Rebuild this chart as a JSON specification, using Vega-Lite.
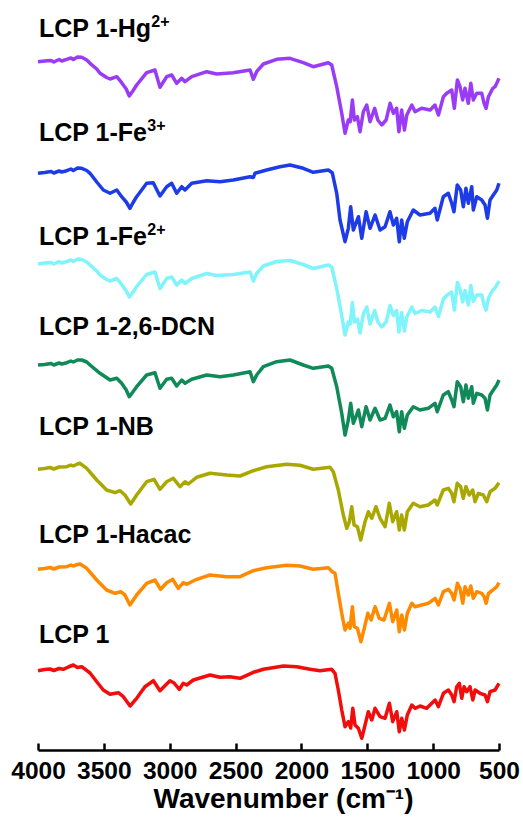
{
  "$schema": "https://vega.github.io/schema/vega-lite/v6.json",
  "width": 461,
  "height": 740,
  "autosize": "none",
  "padding": {"left": 38, "top": 10, "right": 24, "bottom": 73},
  "background": "white",
  "config": {"view": {"stroke": null}, "font": "Liberation Sans"},
  "datasets": {
    "spectra": [
      {"s":"Hg","w":4000,"t":688.3},{"s":"Hg","w":3950,"t":689},{"s":"Hg","w":3900,"t":689.5},{"s":"Hg","w":3880,"t":688},{"s":"Hg","w":3840,"t":690.5},{"s":"Hg","w":3820,"t":689},{"s":"Hg","w":3782,"t":690.7},{"s":"Hg","w":3750,"t":692},{"s":"Hg","w":3732,"t":690.5},{"s":"Hg","w":3700,"t":693},{"s":"Hg","w":3668,"t":692.7},{"s":"Hg","w":3630,"t":690},{"s":"Hg","w":3605,"t":686.7},{"s":"Hg","w":3554,"t":681},{"s":"Hg","w":3529,"t":676.7},{"s":"Hg","w":3479,"t":672.5},{"s":"Hg","w":3453,"t":671},{"s":"Hg","w":3402,"t":673.3},{"s":"Hg","w":3365,"t":667.3},{"s":"Hg","w":3330,"t":661},{"s":"Hg","w":3307,"t":654},{"s":"Hg","w":3280,"t":659},{"s":"Hg","w":3251,"t":665},{"s":"Hg","w":3175,"t":677.3},{"s":"Hg","w":3112,"t":680},{"s":"Hg","w":3074,"t":662.7},{"s":"Hg","w":3023,"t":673.3},{"s":"Hg","w":2985,"t":675},{"s":"Hg","w":2947,"t":666.7},{"s":"Hg","w":2909,"t":671.7},{"s":"Hg","w":2884,"t":668.3},{"s":"Hg","w":2833,"t":673.3},{"s":"Hg","w":2719,"t":678.3},{"s":"Hg","w":2643,"t":676},{"s":"Hg","w":2517,"t":677.3},{"s":"Hg","w":2390,"t":680},{"s":"Hg","w":2365,"t":670.7},{"s":"Hg","w":2340,"t":678.3},{"s":"Hg","w":2289,"t":686},{"s":"Hg","w":2188,"t":690.7},{"s":"Hg","w":2087,"t":691.7},{"s":"Hg","w":1986,"t":687.3},{"s":"Hg","w":1910,"t":683.3},{"s":"Hg","w":1796,"t":687.3},{"s":"Hg","w":1770,"t":685},{"s":"Hg","w":1732,"t":663.3},{"s":"Hg","w":1694,"t":636.7},{"s":"Hg","w":1669,"t":616.7},{"s":"Hg","w":1644,"t":630},{"s":"Hg","w":1630,"t":628.3},{"s":"Hg","w":1613,"t":650},{"s":"Hg","w":1598,"t":630},{"s":"Hg","w":1575,"t":633.3},{"s":"Hg","w":1555,"t":618.3},{"s":"Hg","w":1530,"t":638.3},{"s":"Hg","w":1504,"t":645},{"s":"Hg","w":1479,"t":628.3},{"s":"Hg","w":1444,"t":641.7},{"s":"Hg","w":1420,"t":630},{"s":"Hg","w":1390,"t":625},{"s":"Hg","w":1357,"t":630},{"s":"Hg","w":1327,"t":646.7},{"s":"Hg","w":1302,"t":636.7},{"s":"Hg","w":1277,"t":641.7},{"s":"Hg","w":1260,"t":618.3},{"s":"Hg","w":1239,"t":640},{"s":"Hg","w":1218,"t":620},{"s":"Hg","w":1200,"t":635},{"s":"Hg","w":1162,"t":645},{"s":"Hg","w":1137,"t":638.3},{"s":"Hg","w":1087,"t":641.7},{"s":"Hg","w":1023,"t":640},{"s":"Hg","w":986,"t":645},{"s":"Hg","w":960,"t":635},{"s":"Hg","w":922,"t":653.3},{"s":"Hg","w":897,"t":656.7},{"s":"Hg","w":859,"t":660},{"s":"Hg","w":839,"t":641.7},{"s":"Hg","w":816,"t":670},{"s":"Hg","w":796,"t":663.3},{"s":"Hg","w":776,"t":650},{"s":"Hg","w":758,"t":661.7},{"s":"Hg","w":733,"t":646.7},{"s":"Hg","w":714,"t":666.7},{"s":"Hg","w":695,"t":650},{"s":"Hg","w":669,"t":656.7},{"s":"Hg","w":631,"t":656.7},{"s":"Hg","w":613,"t":646.7},{"s":"Hg","w":598,"t":641.7},{"s":"Hg","w":580,"t":653.3},{"s":"Hg","w":547,"t":661.7},{"s":"Hg","w":530,"t":663.3},{"s":"Hg","w":517,"t":666.7},{"s":"Hg","w":500,"t":671.7},

      {"s":"Fe3","w":4000,"t":576.7},{"s":"Fe3","w":3950,"t":577.5},{"s":"Fe3","w":3900,"t":578.5},{"s":"Fe3","w":3880,"t":577},{"s":"Fe3","w":3840,"t":579},{"s":"Fe3","w":3820,"t":578},{"s":"Fe3","w":3782,"t":579.3},{"s":"Fe3","w":3750,"t":581},{"s":"Fe3","w":3732,"t":579.5},{"s":"Fe3","w":3700,"t":582},{"s":"Fe3","w":3668,"t":581.7},{"s":"Fe3","w":3630,"t":579.5},{"s":"Fe3","w":3605,"t":576.7},{"s":"Fe3","w":3554,"t":568},{"s":"Fe3","w":3504,"t":560},{"s":"Fe3","w":3453,"t":556.7},{"s":"Fe3","w":3402,"t":560},{"s":"Fe3","w":3365,"t":553.3},{"s":"Fe3","w":3330,"t":548},{"s":"Fe3","w":3302,"t":541.7},{"s":"Fe3","w":3280,"t":547},{"s":"Fe3","w":3251,"t":553.3},{"s":"Fe3","w":3175,"t":566.7},{"s":"Fe3","w":3125,"t":567.3},{"s":"Fe3","w":3074,"t":554},{"s":"Fe3","w":3023,"t":563.3},{"s":"Fe3","w":2985,"t":566.7},{"s":"Fe3","w":2947,"t":556.7},{"s":"Fe3","w":2909,"t":563.3},{"s":"Fe3","w":2884,"t":560},{"s":"Fe3","w":2833,"t":566.7},{"s":"Fe3","w":2719,"t":569.3},{"s":"Fe3","w":2618,"t":568.3},{"s":"Fe3","w":2517,"t":570},{"s":"Fe3","w":2390,"t":573.3},{"s":"Fe3","w":2365,"t":572.5},{"s":"Fe3","w":2353,"t":576.7},{"s":"Fe3","w":2264,"t":580},{"s":"Fe3","w":2163,"t":583.3},{"s":"Fe3","w":2087,"t":585},{"s":"Fe3","w":1986,"t":581.7},{"s":"Fe3","w":1910,"t":577.7},{"s":"Fe3","w":1796,"t":580},{"s":"Fe3","w":1766,"t":577.3},{"s":"Fe3","w":1732,"t":556.7},{"s":"Fe3","w":1707,"t":530},{"s":"Fe3","w":1669,"t":508.3},{"s":"Fe3","w":1644,"t":521.7},{"s":"Fe3","w":1626,"t":543.3},{"s":"Fe3","w":1606,"t":520},{"s":"Fe3","w":1567,"t":533.3},{"s":"Fe3","w":1542,"t":511.7},{"s":"Fe3","w":1509,"t":538.3},{"s":"Fe3","w":1479,"t":521.7},{"s":"Fe3","w":1441,"t":535},{"s":"Fe3","w":1403,"t":520},{"s":"Fe3","w":1365,"t":523.3},{"s":"Fe3","w":1328,"t":538.3},{"s":"Fe3","w":1302,"t":525},{"s":"Fe3","w":1277,"t":531.7},{"s":"Fe3","w":1257,"t":508.3},{"s":"Fe3","w":1239,"t":530},{"s":"Fe3","w":1219,"t":511.7},{"s":"Fe3","w":1196,"t":528.3},{"s":"Fe3","w":1151,"t":540},{"s":"Fe3","w":1100,"t":535},{"s":"Fe3","w":1024,"t":536.7},{"s":"Fe3","w":986,"t":541.7},{"s":"Fe3","w":969,"t":530},{"s":"Fe3","w":923,"t":553.3},{"s":"Fe3","w":885,"t":556.7},{"s":"Fe3","w":859,"t":546.7},{"s":"Fe3","w":842,"t":538.3},{"s":"Fe3","w":817,"t":565},{"s":"Fe3","w":791,"t":560},{"s":"Fe3","w":771,"t":543.3},{"s":"Fe3","w":751,"t":561.7},{"s":"Fe3","w":733,"t":546.7},{"s":"Fe3","w":707,"t":563.3},{"s":"Fe3","w":695,"t":540},{"s":"Fe3","w":669,"t":553.3},{"s":"Fe3","w":631,"t":550},{"s":"Fe3","w":606,"t":545},{"s":"Fe3","w":588,"t":531.7},{"s":"Fe3","w":568,"t":550},{"s":"Fe3","w":543,"t":555},{"s":"Fe3","w":517,"t":560},{"s":"Fe3","w":500,"t":566.7},

      {"s":"Fe2","w":4000,"t":486},{"s":"Fe2","w":3950,"t":487},{"s":"Fe2","w":3900,"t":487.5},{"s":"Fe2","w":3880,"t":486},{"s":"Fe2","w":3840,"t":488.5},{"s":"Fe2","w":3820,"t":487},{"s":"Fe2","w":3782,"t":488.5},{"s":"Fe2","w":3750,"t":490},{"s":"Fe2","w":3732,"t":488.5},{"s":"Fe2","w":3700,"t":491},{"s":"Fe2","w":3668,"t":490.5},{"s":"Fe2","w":3630,"t":488},{"s":"Fe2","w":3605,"t":485},{"s":"Fe2","w":3554,"t":479},{"s":"Fe2","w":3529,"t":475},{"s":"Fe2","w":3479,"t":470.5},{"s":"Fe2","w":3453,"t":469},{"s":"Fe2","w":3402,"t":471.5},{"s":"Fe2","w":3365,"t":465.5},{"s":"Fe2","w":3330,"t":459},{"s":"Fe2","w":3307,"t":453},{"s":"Fe2","w":3280,"t":457.5},{"s":"Fe2","w":3251,"t":463.5},{"s":"Fe2","w":3175,"t":475.5},{"s":"Fe2","w":3112,"t":478},{"s":"Fe2","w":3074,"t":461.5},{"s":"Fe2","w":3023,"t":471.5},{"s":"Fe2","w":2985,"t":473},{"s":"Fe2","w":2947,"t":465},{"s":"Fe2","w":2909,"t":470},{"s":"Fe2","w":2884,"t":466.5},{"s":"Fe2","w":2833,"t":471.5},{"s":"Fe2","w":2719,"t":476.5},{"s":"Fe2","w":2643,"t":474.5},{"s":"Fe2","w":2517,"t":475.5},{"s":"Fe2","w":2390,"t":478},{"s":"Fe2","w":2365,"t":469},{"s":"Fe2","w":2340,"t":476.5},{"s":"Fe2","w":2289,"t":484},{"s":"Fe2","w":2188,"t":488.5},{"s":"Fe2","w":2087,"t":489.5},{"s":"Fe2","w":1986,"t":485.5},{"s":"Fe2","w":1910,"t":481.5},{"s":"Fe2","w":1796,"t":485},{"s":"Fe2","w":1770,"t":483},{"s":"Fe2","w":1732,"t":461.5},{"s":"Fe2","w":1694,"t":434.5},{"s":"Fe2","w":1669,"t":415},{"s":"Fe2","w":1644,"t":428},{"s":"Fe2","w":1630,"t":426},{"s":"Fe2","w":1613,"t":447.5},{"s":"Fe2","w":1598,"t":428},{"s":"Fe2","w":1575,"t":431},{"s":"Fe2","w":1555,"t":417},{"s":"Fe2","w":1530,"t":436},{"s":"Fe2","w":1504,"t":443},{"s":"Fe2","w":1479,"t":426},{"s":"Fe2","w":1444,"t":439.5},{"s":"Fe2","w":1420,"t":428},{"s":"Fe2","w":1390,"t":423},{"s":"Fe2","w":1357,"t":428},{"s":"Fe2","w":1327,"t":444.5},{"s":"Fe2","w":1302,"t":434.5},{"s":"Fe2","w":1277,"t":439.5},{"s":"Fe2","w":1260,"t":418},{"s":"Fe2","w":1239,"t":437.5},{"s":"Fe2","w":1218,"t":419},{"s":"Fe2","w":1200,"t":433},{"s":"Fe2","w":1162,"t":443},{"s":"Fe2","w":1137,"t":436.5},{"s":"Fe2","w":1087,"t":439.5},{"s":"Fe2","w":1023,"t":438},{"s":"Fe2","w":986,"t":443},{"s":"Fe2","w":960,"t":433.5},{"s":"Fe2","w":922,"t":451},{"s":"Fe2","w":897,"t":454.5},{"s":"Fe2","w":859,"t":458},{"s":"Fe2","w":839,"t":440},{"s":"Fe2","w":816,"t":467.5},{"s":"Fe2","w":796,"t":461},{"s":"Fe2","w":776,"t":448},{"s":"Fe2","w":758,"t":459.5},{"s":"Fe2","w":733,"t":445},{"s":"Fe2","w":714,"t":464.5},{"s":"Fe2","w":695,"t":448.5},{"s":"Fe2","w":669,"t":455},{"s":"Fe2","w":631,"t":455},{"s":"Fe2","w":613,"t":445},{"s":"Fe2","w":598,"t":440},{"s":"Fe2","w":580,"t":452},{"s":"Fe2","w":547,"t":460},{"s":"Fe2","w":530,"t":462},{"s":"Fe2","w":517,"t":465},{"s":"Fe2","w":500,"t":469},

      {"s":"DCN","w":4000,"t":385},{"s":"DCN","w":3950,"t":385.5},{"s":"DCN","w":3900,"t":386.5},{"s":"DCN","w":3880,"t":385},{"s":"DCN","w":3840,"t":387},{"s":"DCN","w":3820,"t":386},{"s":"DCN","w":3782,"t":387.3},{"s":"DCN","w":3750,"t":389},{"s":"DCN","w":3732,"t":388},{"s":"DCN","w":3700,"t":390},{"s":"DCN","w":3668,"t":390},{"s":"DCN","w":3630,"t":388},{"s":"DCN","w":3605,"t":385},{"s":"DCN","w":3529,"t":376.7},{"s":"DCN","w":3453,"t":370},{"s":"DCN","w":3402,"t":371.7},{"s":"DCN","w":3365,"t":366.7},{"s":"DCN","w":3330,"t":360},{"s":"DCN","w":3307,"t":353.3},{"s":"DCN","w":3280,"t":358},{"s":"DCN","w":3251,"t":363.3},{"s":"DCN","w":3175,"t":375},{"s":"DCN","w":3112,"t":377.3},{"s":"DCN","w":3074,"t":361.7},{"s":"DCN","w":3023,"t":370.7},{"s":"DCN","w":2985,"t":371.7},{"s":"DCN","w":2947,"t":364},{"s":"DCN","w":2909,"t":370},{"s":"DCN","w":2884,"t":366.7},{"s":"DCN","w":2833,"t":370.7},{"s":"DCN","w":2719,"t":375},{"s":"DCN","w":2618,"t":373.3},{"s":"DCN","w":2517,"t":375},{"s":"DCN","w":2390,"t":378.3},{"s":"DCN","w":2365,"t":368.3},{"s":"DCN","w":2340,"t":375},{"s":"DCN","w":2289,"t":383.3},{"s":"DCN","w":2188,"t":388.3},{"s":"DCN","w":2087,"t":390},{"s":"DCN","w":1986,"t":385},{"s":"DCN","w":1910,"t":381.7},{"s":"DCN","w":1796,"t":384},{"s":"DCN","w":1770,"t":381.7},{"s":"DCN","w":1732,"t":363.3},{"s":"DCN","w":1694,"t":336.7},{"s":"DCN","w":1669,"t":315},{"s":"DCN","w":1644,"t":330},{"s":"DCN","w":1626,"t":346.7},{"s":"DCN","w":1606,"t":326.7},{"s":"DCN","w":1567,"t":340},{"s":"DCN","w":1542,"t":323.3},{"s":"DCN","w":1509,"t":343.3},{"s":"DCN","w":1479,"t":330},{"s":"DCN","w":1441,"t":341.7},{"s":"DCN","w":1403,"t":330},{"s":"DCN","w":1365,"t":331.7},{"s":"DCN","w":1328,"t":345},{"s":"DCN","w":1302,"t":333.3},{"s":"DCN","w":1277,"t":338.3},{"s":"DCN","w":1257,"t":318.3},{"s":"DCN","w":1239,"t":338.3},{"s":"DCN","w":1219,"t":321.7},{"s":"DCN","w":1196,"t":335},{"s":"DCN","w":1151,"t":343.3},{"s":"DCN","w":1100,"t":340},{"s":"DCN","w":1037,"t":341.7},{"s":"DCN","w":986,"t":346.7},{"s":"DCN","w":969,"t":338.3},{"s":"DCN","w":923,"t":355},{"s":"DCN","w":885,"t":358.3},{"s":"DCN","w":859,"t":350},{"s":"DCN","w":842,"t":343.3},{"s":"DCN","w":817,"t":368.3},{"s":"DCN","w":791,"t":363.3},{"s":"DCN","w":771,"t":348.3},{"s":"DCN","w":751,"t":365},{"s":"DCN","w":733,"t":351.7},{"s":"DCN","w":707,"t":363.3},{"s":"DCN","w":695,"t":346.7},{"s":"DCN","w":669,"t":356.7},{"s":"DCN","w":631,"t":355},{"s":"DCN","w":606,"t":351.7},{"s":"DCN","w":588,"t":340},{"s":"DCN","w":568,"t":355},{"s":"DCN","w":543,"t":360},{"s":"DCN","w":517,"t":365},{"s":"DCN","w":500,"t":370},

      {"s":"NB","w":4000,"t":280.7},{"s":"NB","w":3950,"t":281.5},{"s":"NB","w":3909,"t":282.5},{"s":"NB","w":3880,"t":281},{"s":"NB","w":3840,"t":283},{"s":"NB","w":3782,"t":283.3},{"s":"NB","w":3750,"t":285},{"s":"NB","w":3732,"t":284},{"s":"NB","w":3700,"t":286},{"s":"NB","w":3681,"t":286.7},{"s":"NB","w":3630,"t":281.7},{"s":"NB","w":3554,"t":270},{"s":"NB","w":3479,"t":260},{"s":"NB","w":3415,"t":257.3},{"s":"NB","w":3377,"t":259.3},{"s":"NB","w":3340,"t":255},{"s":"NB","w":3296,"t":246},{"s":"NB","w":3251,"t":255},{"s":"NB","w":3175,"t":268.3},{"s":"NB","w":3119,"t":270.7},{"s":"NB","w":3074,"t":260.7},{"s":"NB","w":3023,"t":268.3},{"s":"NB","w":2973,"t":271.7},{"s":"NB","w":2922,"t":263.3},{"s":"NB","w":2884,"t":268.3},{"s":"NB","w":2859,"t":266},{"s":"NB","w":2795,"t":272.7},{"s":"NB","w":2694,"t":276.7},{"s":"NB","w":2567,"t":275},{"s":"NB","w":2466,"t":274},{"s":"NB","w":2365,"t":279.3},{"s":"NB","w":2264,"t":283.3},{"s":"NB","w":2112,"t":285.7},{"s":"NB","w":2011,"t":284.7},{"s":"NB","w":1910,"t":280.7},{"s":"NB","w":1783,"t":282.7},{"s":"NB","w":1758,"t":278.3},{"s":"NB","w":1720,"t":260},{"s":"NB","w":1682,"t":235},{"s":"NB","w":1656,"t":221.7},{"s":"NB","w":1636,"t":228.3},{"s":"NB","w":1618,"t":243.3},{"s":"NB","w":1600,"t":225},{"s":"NB","w":1575,"t":223.3},{"s":"NB","w":1550,"t":210},{"s":"NB","w":1517,"t":228.3},{"s":"NB","w":1492,"t":238.3},{"s":"NB","w":1466,"t":231.7},{"s":"NB","w":1434,"t":243.3},{"s":"NB","w":1403,"t":231.7},{"s":"NB","w":1365,"t":223.3},{"s":"NB","w":1333,"t":246.7},{"s":"NB","w":1307,"t":228.3},{"s":"NB","w":1277,"t":238.3},{"s":"NB","w":1257,"t":220},{"s":"NB","w":1239,"t":235},{"s":"NB","w":1219,"t":220},{"s":"NB","w":1196,"t":238.3},{"s":"NB","w":1151,"t":246.7},{"s":"NB","w":1100,"t":243.3},{"s":"NB","w":1037,"t":245},{"s":"NB","w":986,"t":250},{"s":"NB","w":969,"t":245},{"s":"NB","w":923,"t":260},{"s":"NB","w":885,"t":261.7},{"s":"NB","w":859,"t":256.7},{"s":"NB","w":842,"t":248.3},{"s":"NB","w":817,"t":266.7},{"s":"NB","w":791,"t":263.3},{"s":"NB","w":771,"t":251.7},{"s":"NB","w":751,"t":263.3},{"s":"NB","w":726,"t":255},{"s":"NB","w":700,"t":260},{"s":"NB","w":682,"t":248.3},{"s":"NB","w":657,"t":256.7},{"s":"NB","w":619,"t":255},{"s":"NB","w":593,"t":248.3},{"s":"NB","w":568,"t":258.3},{"s":"NB","w":530,"t":261.7},{"s":"NB","w":500,"t":267.3},

      {"s":"Hacac","w":4000,"t":180.7},{"s":"Hacac","w":3950,"t":181.5},{"s":"Hacac","w":3909,"t":182.5},{"s":"Hacac","w":3880,"t":181},{"s":"Hacac","w":3840,"t":183},{"s":"Hacac","w":3782,"t":183.3},{"s":"Hacac","w":3750,"t":185},{"s":"Hacac","w":3732,"t":184},{"s":"Hacac","w":3700,"t":185.5},{"s":"Hacac","w":3681,"t":186},{"s":"Hacac","w":3630,"t":181.7},{"s":"Hacac","w":3554,"t":170},{"s":"Hacac","w":3479,"t":160},{"s":"Hacac","w":3415,"t":156.7},{"s":"Hacac","w":3372,"t":158.3},{"s":"Hacac","w":3340,"t":155},{"s":"Hacac","w":3302,"t":145},{"s":"Hacac","w":3251,"t":155},{"s":"Hacac","w":3175,"t":166.7},{"s":"Hacac","w":3112,"t":170},{"s":"Hacac","w":3069,"t":160.7},{"s":"Hacac","w":3023,"t":167.3},{"s":"Hacac","w":2977,"t":170.7},{"s":"Hacac","w":2935,"t":161.7},{"s":"Hacac","w":2897,"t":167.3},{"s":"Hacac","w":2871,"t":165.7},{"s":"Hacac","w":2795,"t":170.7},{"s":"Hacac","w":2694,"t":175},{"s":"Hacac","w":2567,"t":173.3},{"s":"Hacac","w":2466,"t":173.3},{"s":"Hacac","w":2365,"t":179.3},{"s":"Hacac","w":2264,"t":182.3},{"s":"Hacac","w":2112,"t":184.7},{"s":"Hacac","w":2011,"t":184},{"s":"Hacac","w":1910,"t":180.7},{"s":"Hacac","w":1796,"t":182.3},{"s":"Hacac","w":1766,"t":178.3},{"s":"Hacac","w":1745,"t":176.7},{"s":"Hacac","w":1720,"t":156.7},{"s":"Hacac","w":1694,"t":136.7},{"s":"Hacac","w":1669,"t":120},{"s":"Hacac","w":1644,"t":126.7},{"s":"Hacac","w":1631,"t":121.7},{"s":"Hacac","w":1613,"t":143.3},{"s":"Hacac","w":1599,"t":123.3},{"s":"Hacac","w":1575,"t":121.7},{"s":"Hacac","w":1548,"t":108.3},{"s":"Hacac","w":1523,"t":121.7},{"s":"Hacac","w":1496,"t":136.7},{"s":"Hacac","w":1471,"t":130},{"s":"Hacac","w":1441,"t":143.3},{"s":"Hacac","w":1409,"t":131.7},{"s":"Hacac","w":1373,"t":130},{"s":"Hacac","w":1332,"t":146.7},{"s":"Hacac","w":1307,"t":128.3},{"s":"Hacac","w":1276,"t":140},{"s":"Hacac","w":1257,"t":118.3},{"s":"Hacac","w":1238,"t":135},{"s":"Hacac","w":1218,"t":120},{"s":"Hacac","w":1196,"t":136.7},{"s":"Hacac","w":1162,"t":146.7},{"s":"Hacac","w":1137,"t":143.3},{"s":"Hacac","w":1087,"t":145},{"s":"Hacac","w":1037,"t":146.7},{"s":"Hacac","w":985,"t":151.7},{"s":"Hacac","w":960,"t":145},{"s":"Hacac","w":922,"t":158.3},{"s":"Hacac","w":884,"t":160.7},{"s":"Hacac","w":859,"t":156.7},{"s":"Hacac","w":841,"t":150},{"s":"Hacac","w":816,"t":166.7},{"s":"Hacac","w":796,"t":161.7},{"s":"Hacac","w":775,"t":146.7},{"s":"Hacac","w":758,"t":163.3},{"s":"Hacac","w":733,"t":155},{"s":"Hacac","w":714,"t":164},{"s":"Hacac","w":695,"t":151.7},{"s":"Hacac","w":669,"t":158.3},{"s":"Hacac","w":631,"t":156.7},{"s":"Hacac","w":613,"t":153.3},{"s":"Hacac","w":598,"t":146.7},{"s":"Hacac","w":580,"t":156.7},{"s":"Hacac","w":547,"t":160},{"s":"Hacac","w":517,"t":163.3},{"s":"Hacac","w":500,"t":167.3},

      {"s":"LCP1","w":4000,"t":79.3},{"s":"LCP1","w":3950,"t":80.5},{"s":"LCP1","w":3909,"t":81},{"s":"LCP1","w":3880,"t":79.5},{"s":"LCP1","w":3840,"t":81.5},{"s":"LCP1","w":3808,"t":80.7},{"s":"LCP1","w":3770,"t":83},{"s":"LCP1","w":3732,"t":85},{"s":"LCP1","w":3700,"t":82.5},{"s":"LCP1","w":3668,"t":83.3},{"s":"LCP1","w":3605,"t":77},{"s":"LCP1","w":3554,"t":68.3},{"s":"LCP1","w":3504,"t":60},{"s":"LCP1","w":3453,"t":55.7},{"s":"LCP1","w":3390,"t":57.3},{"s":"LCP1","w":3352,"t":53.3},{"s":"LCP1","w":3301,"t":44},{"s":"LCP1","w":3251,"t":51.7},{"s":"LCP1","w":3188,"t":63.3},{"s":"LCP1","w":3124,"t":69.3},{"s":"LCP1","w":3074,"t":59.3},{"s":"LCP1","w":2998,"t":69.3},{"s":"LCP1","w":2967,"t":67},{"s":"LCP1","w":2927,"t":60.7},{"s":"LCP1","w":2897,"t":66.7},{"s":"LCP1","w":2871,"t":65},{"s":"LCP1","w":2821,"t":70},{"s":"LCP1","w":2694,"t":75},{"s":"LCP1","w":2618,"t":72.7},{"s":"LCP1","w":2544,"t":73.3},{"s":"LCP1","w":2466,"t":71.7},{"s":"LCP1","w":2365,"t":77.7},{"s":"LCP1","w":2289,"t":80.7},{"s":"LCP1","w":2137,"t":84},{"s":"LCP1","w":2036,"t":83.3},{"s":"LCP1","w":1935,"t":80.7},{"s":"LCP1","w":1859,"t":79.3},{"s":"LCP1","w":1770,"t":80.7},{"s":"LCP1","w":1745,"t":76.7},{"s":"LCP1","w":1720,"t":60},{"s":"LCP1","w":1694,"t":40},{"s":"LCP1","w":1669,"t":23.3},{"s":"LCP1","w":1644,"t":28.3},{"s":"LCP1","w":1626,"t":22},{"s":"LCP1","w":1610,"t":41.7},{"s":"LCP1","w":1593,"t":25},{"s":"LCP1","w":1568,"t":21.7},{"s":"LCP1","w":1542,"t":11.7},{"s":"LCP1","w":1517,"t":25},{"s":"LCP1","w":1492,"t":38.3},{"s":"LCP1","w":1466,"t":30},{"s":"LCP1","w":1441,"t":41.7},{"s":"LCP1","w":1403,"t":33.3},{"s":"LCP1","w":1365,"t":31.7},{"s":"LCP1","w":1332,"t":46.7},{"s":"LCP1","w":1307,"t":28.3},{"s":"LCP1","w":1276,"t":38.3},{"s":"LCP1","w":1257,"t":18.3},{"s":"LCP1","w":1238,"t":31.7},{"s":"LCP1","w":1218,"t":20},{"s":"LCP1","w":1196,"t":35},{"s":"LCP1","w":1162,"t":45},{"s":"LCP1","w":1137,"t":41.7},{"s":"LCP1","w":1099,"t":44},{"s":"LCP1","w":1049,"t":41.7},{"s":"LCP1","w":985,"t":50},{"s":"LCP1","w":960,"t":43.3},{"s":"LCP1","w":922,"t":56.7},{"s":"LCP1","w":884,"t":60},{"s":"LCP1","w":859,"t":55},{"s":"LCP1","w":841,"t":48.3},{"s":"LCP1","w":821,"t":63.3},{"s":"LCP1","w":801,"t":66.7},{"s":"LCP1","w":783,"t":51.7},{"s":"LCP1","w":765,"t":63.3},{"s":"LCP1","w":745,"t":58.3},{"s":"LCP1","w":720,"t":63.3},{"s":"LCP1","w":699,"t":50},{"s":"LCP1","w":681,"t":60},{"s":"LCP1","w":644,"t":56.7},{"s":"LCP1","w":606,"t":55},{"s":"LCP1","w":588,"t":48.3},{"s":"LCP1","w":568,"t":58.3},{"s":"LCP1","w":530,"t":60},{"s":"LCP1","w":500,"t":66.7}
    ],
    "labels": [
      {"name":"LCP 1-Hg","w":4000,"t":713},
      {"name":"LCP 1-Fe","w":4000,"t":609},
      {"name":"LCP 1-Fe","w":4000,"t":505},
      {"name":"LCP 1-2,6-DCN","w":4000,"t":415},
      {"name":"LCP 1-NB","w":4000,"t":315},
      {"name":"LCP 1-Hacac","w":4000,"t":207},
      {"name":"LCP 1","w":4000,"t":107}
    ],
    "charges": [
      {"name":"2+","w":3140,"t":723},
      {"name":"3+","w":3170,"t":619},
      {"name":"2+","w":3170,"t":515}
    ]
  },
  "layer": [
    {
      "data": {"name": "spectra"},
      "mark": {"type": "line", "strokeWidth": 3.5, "strokeJoin": "round", "clip": false},
      "encoding": {
        "x": {
          "field": "w", "type": "quantitative",
          "scale": {"domain": [500, 4000], "reverse": true, "nice": false, "zero": false},
          "axis": {
            "title": "Wavenumber (cm⁻¹)",
            "values": [4000, 3750, 3500, 3250, 3000, 2750, 2500, 2250, 2000, 1750, 1500, 1250, 1000, 750, 500],
            "labelExpr": "datum.value % 500 === 0 ? datum.label : ''",
            "format": "d",
            "grid": false,
            "domainColor": "black", "domainWidth": 2.5,
            "tickColor": "black", "tickWidth": 2.5,
            "tickSize": {"condition": {"test": "datum.value % 500 === 0", "value": -7}, "value": -4},
            "labelFont": "Liberation Sans", "labelFontWeight": "bold", "labelFontSize": 24.5,
            "labelColor": "black", "labelPadding": 16, "labelOverlap": false, "labelFlush": false,
            "titleFont": "Liberation Sans", "titleFontWeight": "bold", "titleFontSize": 28,
            "titleColor": "black", "titlePadding": 3, "titleX": 245
          }
        },
        "y": {"field": "t", "type": "quantitative", "scale": {"domain": [0, 740], "nice": false, "zero": false}, "axis": null},
        "color": {
          "field": "s", "type": "nominal", "legend": null,
          "scale": {
            "domain": ["Hg", "Fe3", "Fe2", "DCN", "NB", "Hacac", "LCP1"],
            "range": ["#9a3cf5", "#1d3ce8", "#7ff4fb", "#0f8a58", "#a9a800", "#ff8a00", "#f20d0d"]
          }
        },
        "detail": {"field": "s"}
      }
    },
    {
      "data": {"name": "labels"},
      "mark": {"type": "text", "align": "left", "baseline": "alphabetic", "dx": 1, "font": "Liberation Sans", "fontWeight": "bold", "fontSize": 25, "color": "black"},
      "encoding": {
        "x": {"field": "w", "type": "quantitative"},
        "y": {"field": "t", "type": "quantitative"},
        "text": {"field": "name"}
      }
    },
    {
      "data": {"name": "charges"},
      "mark": {"type": "text", "align": "left", "baseline": "alphabetic", "font": "Liberation Sans", "fontWeight": "bold", "fontSize": 16, "color": "black"},
      "encoding": {
        "x": {"field": "w", "type": "quantitative"},
        "y": {"field": "t", "type": "quantitative"},
        "text": {"field": "name"}
      }
    }
  ]
}
